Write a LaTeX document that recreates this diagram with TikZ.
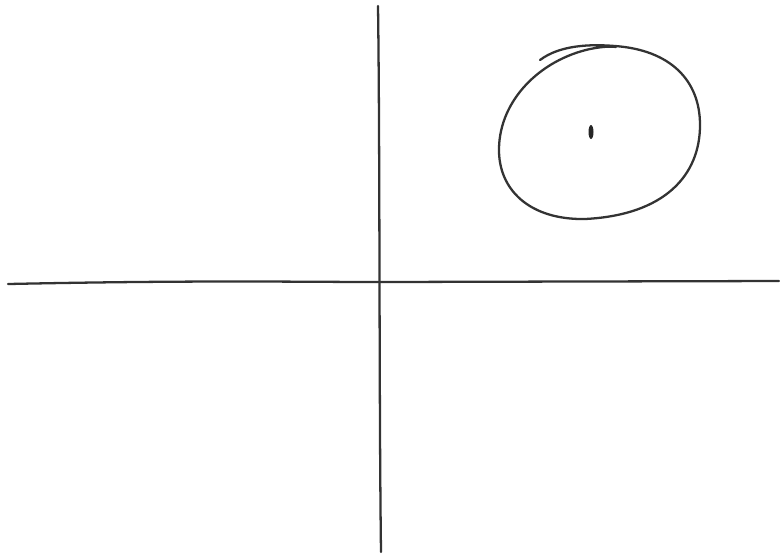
\documentclass[tikz,border=0pt]{standalone}
\begin{document}
\begin{tikzpicture}[x=0.02cm,y=-0.02cm,
  pen/.style={line width=1.3pt,color=black!80,line cap=round,line join=round}]
\useasboundingbox (0,0) rectangle (780,556);
% axes
\coordinate (xl) at (8,284);
\coordinate (xr) at (779,281);
\coordinate (yt) at (378,6);
\coordinate (yb) at (381,552);
\draw[pen] (xl) .. controls (200,280) and (300,282) .. (380,282) -- (xr);
\draw[pen] (yt) .. controls (380,150) and (379,400) .. (yb);
% circle
\draw[pen] (540,60) .. controls (560,45) and (590,44) .. (615,46)
  .. controls (670,50) and (700,80) .. (700,125)
  .. controls (700,175) and (665,215) .. (585,219)
  .. controls (530,220) and (498,190) .. (499,148)
  .. controls (500,100) and (540,60) .. (590,49)
  .. controls (600,47) and (610,46) .. (616,47);
% centre dot
\fill[black!85] (591,132) ellipse (2.5 and 7);
\end{tikzpicture}
\end{document}
